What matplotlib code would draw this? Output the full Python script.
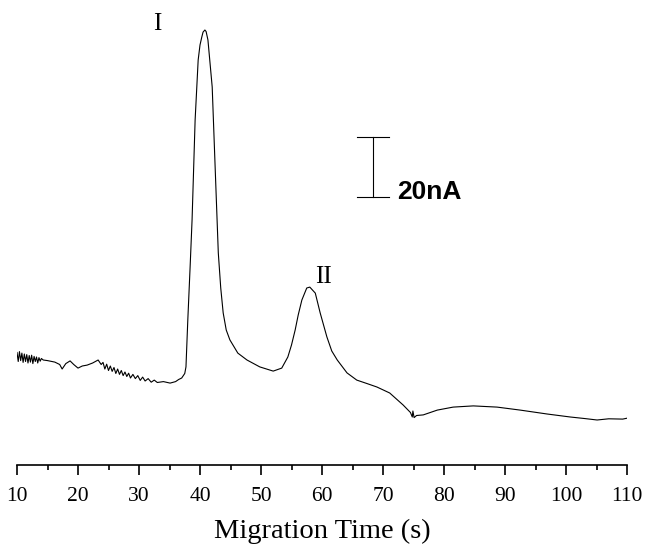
import matplotlib
matplotlib.use("Agg")
from matplotlib import pyplot as plt
from matplotlib.ticker import MultipleLocator

# migration time (s) and detector current (nA, arbitrary offset)
time = [10.0, 10.2, 10.4, 10.6, 10.8, 11.0, 11.2, 11.4, 11.6, 11.8, 12.0, 12.2, 12.4,
        12.6, 12.8, 13.0, 13.2, 13.4, 13.6, 13.8, 14.0, 14.3, 15.0, 16.2, 17.0, 17.4,
        18.0, 18.7, 19.3, 20.0, 20.7, 21.5, 22.4, 23.3, 23.8, 24.1, 24.4, 24.7, 25.0,
        25.3, 25.6, 25.9, 26.2, 26.5, 26.8, 27.1, 27.4, 27.7, 28.0, 28.3, 28.6, 29.0,
        29.4, 29.8, 30.2, 30.6, 31.0, 31.5, 32.0, 32.5, 33.0, 34.0, 35.1, 36.0, 36.5,
        37.0, 37.5, 37.7, 38.0, 38.4, 38.7, 39.2, 39.7, 40.0, 40.3, 40.5, 40.8, 41.0,
        41.3, 42.0, 42.5, 43.0, 43.4, 43.8, 44.3, 44.9, 46.2, 47.7, 49.8, 52.0, 53.4,
        54.4, 55.0, 55.6, 56.1, 56.7, 57.5, 58.0, 58.9, 59.7, 60.8, 61.6, 62.5, 64.1,
        65.7, 67.3, 69.0, 71.1, 73.3, 74.5, 74.8, 74.9, 75.1, 75.5, 76.6, 78.9, 81.5,
        84.8, 88.7, 92.5, 96.9, 100.7, 103.0, 105.1, 107.0, 109.3, 110.0]
current = [22.5, 19.5, 22.8, 19.8, 22.3, 19.2, 22.0, 19.5, 21.8, 19.0, 21.5, 19.3, 21.6,
           18.8, 21.2, 19.5, 21.0, 19.0, 20.8, 19.6, 20.5, 20.0, 19.8, 19.3, 18.5, 17.0,
           18.8, 19.7, 18.5, 17.3, 18.0, 18.3, 19.0, 20.0, 18.5, 19.2, 17.0, 18.6, 16.5,
           18.0, 16.2, 17.5, 15.5, 17.0, 15.2, 16.5, 14.8, 16.0, 14.5, 15.6, 14.0, 15.2,
           13.8, 14.8, 13.2, 14.3, 13.0, 13.8, 12.6, 13.3, 12.5, 12.8, 12.3, 12.8, 13.5,
           14.0, 15.5, 17.7, 33.3, 52.0, 66.7, 100.0, 120.0, 125.0, 127.7, 129.3, 130.0, 129.5,
           126.7, 111.0, 83.3, 55.7, 44.0, 35.7, 30.0, 26.7, 22.3, 20.0, 17.7, 16.3, 17.3,
           21.0, 25.0, 30.0, 35.0, 40.0, 44.0, 44.3, 42.3, 35.7, 27.7, 23.0, 20.0, 15.7,
           13.3, 12.2, 11.0, 9.0, 5.0, 2.5, 1.0, 3.0, 0.8, 1.5, 1.7, 3.3, 4.3,
           4.7, 4.3, 3.3, 2.0, 1.0, 0.5, 0.0, 0.4, 0.3, 0.6]

peak_labels = ["I", "II"]
peak_pos = [(33.0, 132.0), (60.2, 47.7)]

scale_x = 68.4
scale_y0, scale_y1 = 74.5, 94.5   # 20 nA
scale_text = "20nA"

fig = plt.figure(figsize=(6.49, 5.47), dpi=100)
ax = fig.add_axes([17/649, 82/547, 610/649, 465/547])

ax.plot(time, current, color="black", lw=0.8)

for lab, (tx, ty) in zip(peak_labels, peak_pos):
    ax.text(tx, ty, lab, family="Liberation Serif", fontsize=18, ha="center", va="center")

# scale bar
ax.plot([scale_x, scale_x], [scale_y0, scale_y1], color="black", lw=0.8)
ax.plot([scale_x - 2.6, scale_x + 2.6], [scale_y0, scale_y0], color="black", lw=0.8)
ax.plot([scale_x - 2.6, scale_x + 2.6], [scale_y1, scale_y1], color="black", lw=0.8)
ax.text(scale_x + 3.9, 76.0, scale_text, family="Liberation Sans", fontweight="bold",
        fontsize=19, ha="left", va="center")

ax.set_xlim(10, 110)
ax.set_ylim(-15, 140)
for s in ["left", "right", "top"]:
    ax.spines[s].set_visible(False)
ax.spines["bottom"].set_linewidth(1.2)
ax.set_yticks([])
ax.xaxis.set_major_locator(MultipleLocator(10))
ax.xaxis.set_minor_locator(MultipleLocator(5))
ax.tick_params(axis="x", which="major", length=7, width=1.2, pad=9, labelsize=15.5)
ax.tick_params(axis="x", which="minor", length=3.6, width=1.2)
for lbl in ax.get_xticklabels():
    lbl.set_family("Liberation Serif")
ax.set_xlabel("Migration Time (s)", family="Liberation Serif", fontsize=20.5, labelpad=9)

plt.savefig("out.png", dpi=100)
